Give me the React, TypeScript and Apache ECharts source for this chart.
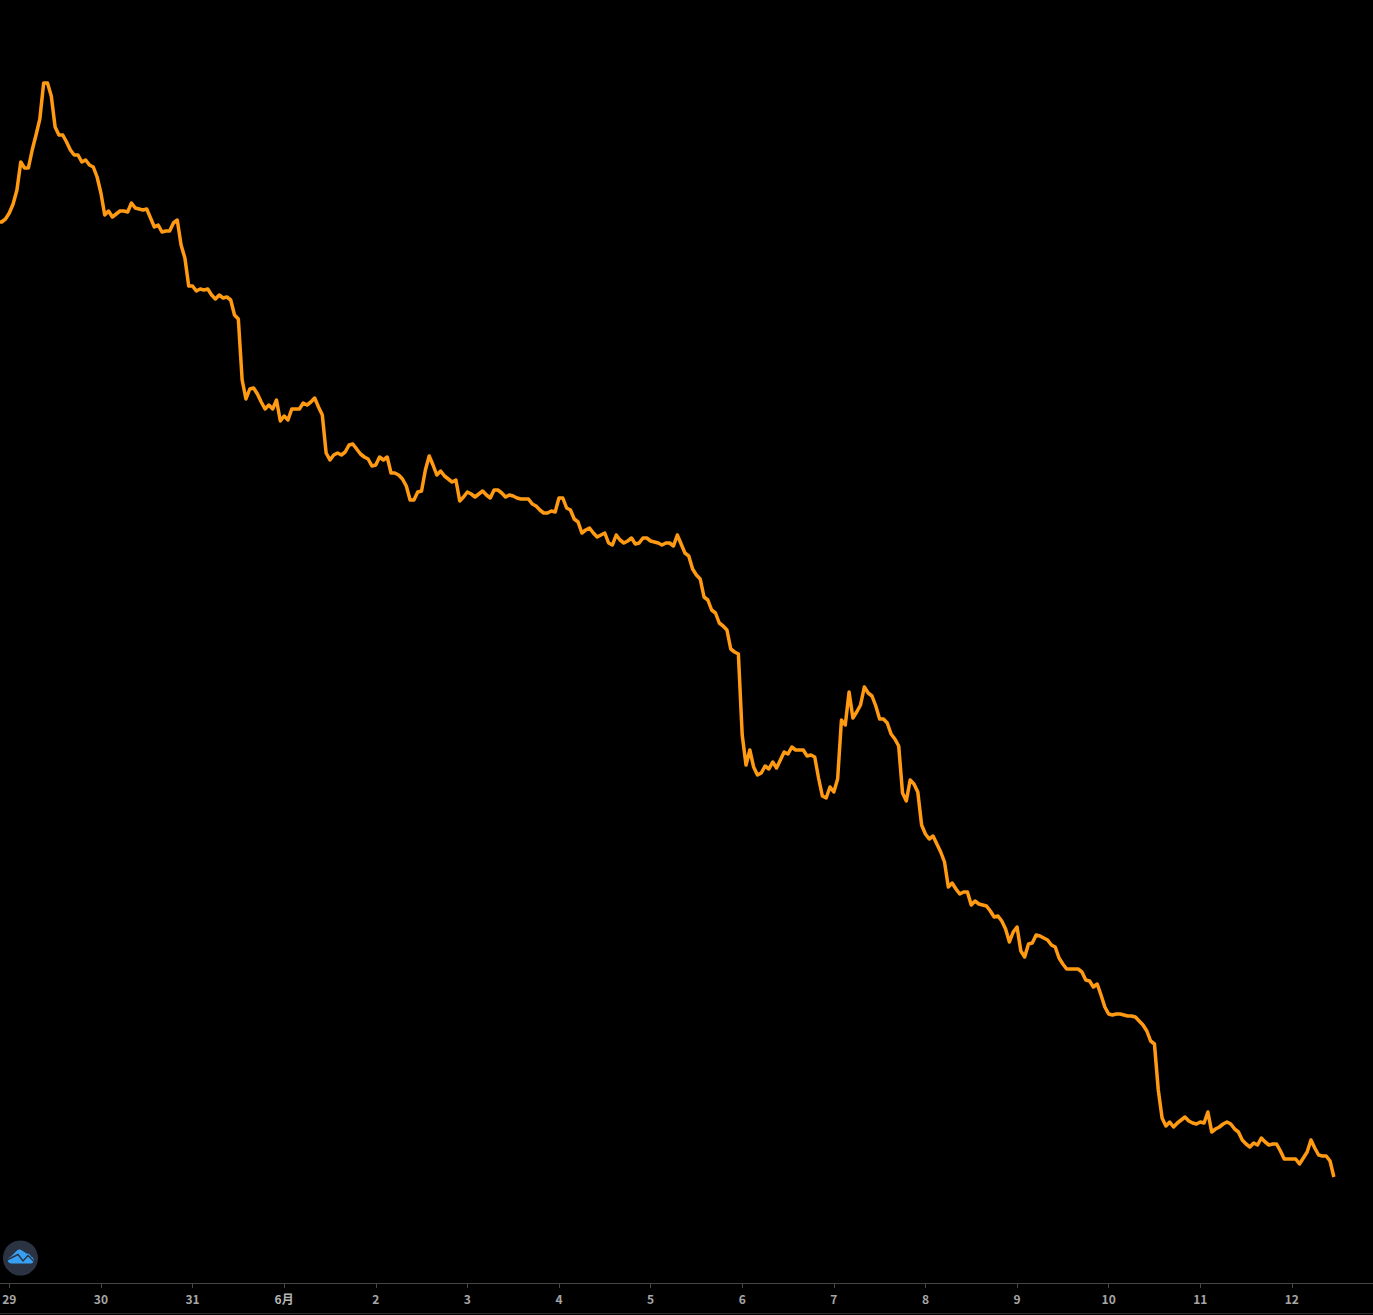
import React, { useEffect, useRef } from "react";
import * as echarts from "echarts";

const tickLabels = ["29", "30", "31", "6月", "2", "3", "4", "5", "6", "7", "8", "9", "10", "11", "12"];

const seriesValues = [
  1061, 1061, 1064, 1070, 1079, 1093, 1121, 1115, 1115, 1133, 1148, 1164, 1200, 1200, 1187, 1156,
  1148, 1148, 1141, 1133, 1128, 1128, 1121, 1123, 1118, 1116, 1106, 1090, 1068, 1072, 1066, 1069,
  1072, 1072, 1071, 1080, 1075, 1074, 1073, 1074, 1065, 1056, 1058, 1051, 1052, 1052, 1060, 1063,
  1038, 1025, 997, 997, 992, 994, 993, 994, 988, 984, 988, 985, 986, 983, 968, 964,
  903, 884, 894, 895, 889, 881, 874, 878, 874, 883, 862, 867, 863, 874, 874, 874,
  880, 878, 881, 885, 876, 868, 830, 823, 828, 830, 828, 831, 838, 839, 834, 829,
  826, 824, 817, 818, 826, 823, 826, 810, 810, 808, 804, 797, 783, 783, 791, 792,
  813, 827, 818, 808, 812, 807, 804, 801, 803, 782, 786, 791,
  789, 786, 789, 792, 788, 785, 793, 793, 790, 786, 788, 787, 785, 784, 784, 784,
  779, 777, 773, 770, 770, 772, 771, 785, 785, 775, 773, 764, 761, 750, 753, 755,
  750, 746, 748, 750, 740, 738, 748, 743, 740, 742, 745, 739, 740, 745, 745, 742,
  741, 740, 738, 740, 740, 737, 748, 739, 730, 727,
  714, 708, 704, 686, 683, 673, 670, 660, 657, 653, 634, 631, 629, 548, 518, 533,
  516, 508, 510, 517, 514, 521, 515, 523, 531, 529, 536, 533, 533, 533, 527, 528,
  526, 505, 487, 485, 496, 491, 504, 563, 558, 591, 565, 571, 578, 596, 590, 587,
  577, 564, 564, 560, 549, 544, 537, 490, 482, 503,
  499, 491, 458, 449, 444, 447, 439, 431, 421, 396, 400, 394, 389, 391, 391, 378,
  382, 379, 378, 377, 372, 366, 367, 362, 354, 341, 351, 356, 332, 326, 339, 340,
  348, 347, 345, 343, 338, 336, 325, 319, 314, 314, 314, 314, 311, 303, 302, 296,
  299, 288, 276, 269, 268, 269, 269, 268, 267,
  267, 266, 262, 258, 252, 242, 239, 193, 165, 157, 161, 156, 160, 163, 166, 162,
  160, 159, 161, 160, 171, 151, 154, 156, 159, 161, 159, 154, 151, 143, 139, 136,
  140, 138, 145, 141, 138, 139, 139, 132, 124, 124, 124, 124, 119, 125, 131, 143,
  135, 128, 127, 127, 122, 106,
];

const hourCount = 362;
const firstDayIndex = 3;
const hoursPerDay = 24;
const categories = Array.from({ length: hourCount }, (_, i) => {
  const offset = i - firstDayIndex;
  return offset >= 0 && offset % hoursPerDay === 0 && tickLabels[offset / hoursPerDay]
    ? tickLabels[offset / hoursPerDay]
    : `h${i}`;
});
const isDayTick = (index: number) => tickLabels.includes(categories[index]);

echarts.graphic.registerShape(
  "logoCloud",
  echarts.graphic.extendPath(
    "M-9 5.5 C-13.5 5.5 -14 0 -9.5 -1.5 L-3.5 -7.5 C-2 -8.8 0 -8.8 1.5 -7.5 L6 -4.5 C8 -5 10 -3.5 10.5 -1.5 C14.5 0 14.5 5.5 10 5.5 Z",
    {}
  )
);

const logoCenter = [20.5, 1258];
const logoLine = [[-12.5, 1.5], [-2.5, -3.5], [2.5, 3], [7.5, -2.5], [14, 4]];

export default function App() {
  const ref = useRef<HTMLDivElement>(null);
  useEffect(() => {
    document.body.style.margin = "0";
    document.body.style.background = "#000";
    const chart = echarts.init(ref.current!, undefined, { renderer: "svg" });
    chart.setOption({
      animation: false,
      backgroundColor: "#000000",
      grid: { left: -2.15, top: 0, width: 1378, height: 1283, outerBoundsMode: "none" },
      xAxis: {
        type: "category",
        data: categories,
        boundaryGap: false,
        axisLine: { show: true, lineStyle: { color: "#464646", width: 1 } },
        axisTick: {
          show: true,
          length: 5,
          interval: (index: number) => isDayTick(index),
          lineStyle: { color: "#464646", width: 1 },
        },
        axisLabel: {
          interval: (index: number) => isDayTick(index),
          hideOverlap: false,
          margin: 9,
          color: "#a6a6a6",
          fontFamily: "'Noto Sans CJK SC', 'Noto Sans', sans-serif",
          fontSize: 12,
          fontWeight: 700,
          formatter: (value: string) => (value === "6月" ? `{month|${value}}` : value),
          rich: {
            month: {
              color: "#b4b4b4",
              fontFamily: "'Noto Sans CJK SC', 'Noto Sans', sans-serif",
              fontSize: 12,
              fontWeight: 700,
            },
          },
        },
        splitLine: { show: false },
      },
      yAxis: { type: "value", min: 0, max: 1283, show: false, splitLine: { show: false } },
      series: [
        {
          type: "line",
          data: seriesValues,
          showSymbol: false,
          symbol: "none",
          smooth: false,
          lineStyle: { color: "#ff9a12", width: 3.5, join: "round" },
        },
      ],
      graphic: [
        { type: "line", shape: { x1: 0, y1: 1313.5, x2: 1373, y2: 1313.5 }, style: { stroke: "#2e2e2e", lineWidth: 1 } },
        { type: "circle", shape: { cx: logoCenter[0], cy: logoCenter[1], r: 17.5 }, style: { fill: "#2b3242" } },
        { type: "logoCloud", x: logoCenter[0], y: logoCenter[1], style: { fill: "#38a0f2" } },
        {
          type: "polyline",
          shape: { points: logoLine.map(([x, y]) => [x + logoCenter[0], y + logoCenter[1]]) },
          style: { stroke: "#2b3242", lineWidth: 1.4, fill: "none" },
        },
      ],
    });
    return () => chart.dispose();
  }, []);
  return <div ref={ref} style={{ width: 1373, height: 1315 }} />;
}
